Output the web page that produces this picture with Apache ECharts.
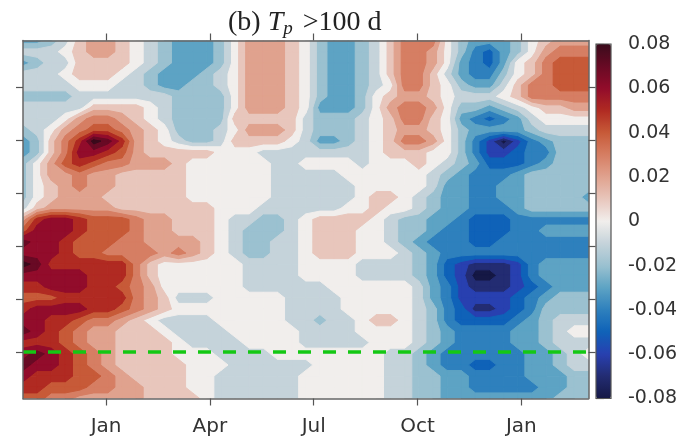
<!DOCTYPE html>
<html><head><meta charset="utf-8">
<style>html,body{margin:0;padding:0;background:#fff}#c{width:682px;height:442px}</style>
<script src="https://cdn.jsdelivr.net/npm/echarts@6/dist/echarts.min.js"></script>
</head><body><div id="c"></div>
<script>
const tickMonths = [0, 3, 6, 9, 12];
const tickLabels = ['Jan', 'Apr', 'Jul', 'Oct', 'Jan'];
const yTicks = [0, 1, 2, 3, 4, 5];
const xRange = [-2.4, 13.94];
const yRange = [-0.877, 5.877];
const thresholdLine = 0;
// colours of the filled bands, from -0.08 to +0.08 in steps of 0.01
const palette = ['#151845','#232c72','#2840b0','#0f62b8','#2e80bd','#5da3c4','#9bc1d0','#c5d3da','#f1eeec',
                 '#e8c6bc','#e0a28e','#d67e63','#c75a38','#b02a22','#920c2b','#680a24','#3a0b1c'];
// anomaly in hundredths; rows top to bottom, columns left to right
const hundredths = [
[-3,-3,-2,-1,1, 2,2,1,0,-1, -2,-3,-3,-3,-2, 0,2,2,2,1, 0,-2,-3,-3,-2, -1,1,3,3,3, 0,-2,-3,-3,-3, -2,0,1,2,2, 2],
[-1,-1,-1,0,1, 2,2,1,0,-1, -2,-3,-3,-3,-2, 0,2,2,2,1, 0,-2,-3,-3,-2, -1,1,3,3,2, 0,-2,-4,-5,-3, -2,0,2,3,3, 3],
[-3,-2,-1,-1,1, 1,1,1,0,-1, -2,-3,-3,-3,-2, 0,2,2,2,1, 0,-2,-3,-3,-2, -1,1,3,3,2, 0,-3,-4,-5,-3, 0,1,3,4,4, 4],
[-1,-1,-1,0,1, 1,1,0,-1,-2, -3,-3,-3,-2,-1, 0,2,2,2,1, 0,-2,-3,-3,-2, -1,1,3,3,1, -1,-3,-4,-4,-2, 0,1,3,4,4, 4],
[-1,-1,-1,-1,0, 0,0,-1,-1,-2, -3,-3,-2,-2,-1, 0,2,2,2,1, 0,-2,-3,-3,-2, -1,0,3,3,1, 0,-2,-3,-3,-1, 1,3,3,4,4, 4],
[-2,-2,-2,-2,-1, -1,-1,-1,-1,-1, -1,-2,-2,-2,-2, 0,2,2,2,1, 0,-2,-3,-3,-2, 0,1,2,2,1, 0,-1,-1,-1,0, 1,3,3,3,3, 3],
[-1,-1,-1,-1,-1, 1,1,1,1,0, -1,-2,-2,-2,-2, 0,2,2,2,1, 0,-3,-3,-3,-2, 0,2,3,3,2, 0,-2,-2,-3,-2, -1,0,1,1,2, 2],
[-1,-1,-1,0,2, 3,3,2,1,0, -1,-2,-2,-2,-2, 1,1,1,1,1, -1,-2,-2,-2,-1, 0,1,3,3,1, 0,-3,-4,-5,-4, -3,-1,0,0,0, 0],
[-2,-1,0,2,3, 4,4,3,2,1, 0,-2,-2,-2,-1, 0,2,2,2,1, -1,-2,-2,-2,-1, 0,1,2,2,1, 0,-2,-3,-3,-3, -3,-2,-1,-1,-1, -1],
[-3,-2,1,3,5, 8,7,5,2,1, 0,-1,-2,-2,-1, 1,1,1,1,0, -1,-3,-3,-2,-1, 0,1,3,3,2, 0,-2,-4,-6,-8, -6,-4,-3,-2,-2, -2],
[-3,-2,1,3,6, 6,5,4,2,1, 1,1,1,1,0, 0,0,-1,-1,-1, -1,-1,-1,-1,-1, 0,1,1,1,0, 0,-2,-4,-6,-6, -5,-4,-4,-2,-2, -2],
[-2,0,2,4,5, 4,3,3,2,2, 2,1,0,0,0, 0,0,0,-1,-1, 0,0,0,0,-1, 0,0,0,1,0, -1,-2,-3,-5,-5, -5,-4,-3,-2,-2, -2],
[-2,0,2,2,3, 2,2,1,1,1, 1,1,0,0,0, 0,0,0,-1,-1, -1,-1,-1,0,0, 0,0,0,0,-1, -2,-3,-4,-4,-4, -3,-2,-2,-2,-2, -2],
[-2,0,1,2,3, 2,2,1,1,1, 1,1,0,0,0, 0,0,0,-1,-1, -1,-1,-1,-1,0, 0,0,0,0,-1, -3,-3,-4,-4,-3, -3,-2,-2,-2,-2, -2],
[-2,0,1,2,2, 2,1,1,1,1, 1,1,0,0,0, 0,0,0,-1,-1, -1,-1,-1,-1,0, 1,1,0,-1,-2, -3,-3,-4,-4,-3, -3,-2,-2,-2,-2, -3],
[-1,1,2,2,2, 2,2,1,1,1, 1,1,1,1,0, 0,0,-1,-1,-1, -1,-1,-1,0,0, 1,0,0,-1,-2, -3,-3,-4,-4,-4, -3,-2,-2,-2,-2, -2],
[2,5,6,6,5, 4,4,4,3,2, 2,1,1,1,0, -1,-1,-2,-2,-1, 0,1,1,1,1, 0,-1,-2,-2,-3, -3,-4,-5,-5,-5, -4,-4,-4,-4,-4, -4],
[4,6,6,6,5, 4,4,4,3,2, 2,1,1,1,0, -1,-2,-2,-2,-1, 0,1,1,1,0, 0,-1,-2,-2,-3, -4,-4,-5,-5,-5, -4,-4,-3,-3,-3, -3],
[7,6,6,5,4, 4,4,3,3,2, 2,2,2,1,0, -1,-2,-2,-1,-1, 0,1,1,1,0, 0,-1,-2,-3,-4, -4,-4,-5,-5,-4, -4,-4,-4,-4,-4, -4],
[6,6,6,5,4, 4,3,3,3,3, 2,3,2,1,0, -1,-2,-2,-1,-1, 0,1,1,1,0, 0,0,-1,-2,-3, -4,-4,-4,-4,-4, -4,-4,-4,-4,-4, -4],
[8,7,5,5,5, 5,5,5,3,1, 0,0,0,0,0, 0,-1,-1,-1,-1, 0,0,0,0,-1, -1,-1,-1,-2,-3, -5,-6,-7,-7,-7, -6,-4,-3,-3,-3, -3],
[6,6,6,6,6, 5,5,5,3,1, 0,0,0,0,0, 0,-1,-1,-1,-1, 0,0,0,0,-1, -1,-1,-1,-2,-3, -5,-6,-8,-8,-7, -6,-4,-3,-3,-3, -3],
[5,5,6,6,6, 5,5,4,3,2, 0,0,0,0,0, 0,-1,-1,-1,-1, -1,-1,0,0,0, 0,0,0,-1,-3, -4,-6,-7,-7,-7, -6,-5,-4,-3,-3, -3],
[4,4,4,5,5, 5,5,5,3,2, 1,-1,-1,-1,0, 0,0,0,0,-1, -1,-1,-1,0,0, 0,0,0,-1,-3, -4,-6,-6,-6,-6, -5,-4,-3,-2,-2, -2],
[5,6,6,6,6, 5,5,4,3,2, 1,0,0,0,0, 0,0,0,0,-1, -1,-1,-1,0,0, 0,0,0,-1,-2, -4,-5,-7,-7,-6, -5,-4,-2,-2,-2, -2],
[6,6,5,5,4, 3,3,2,1,0, -1,-1,-1,-1,0, 0,0,0,0,-1, -1,-2,-1,-1,0, 1,1,0,-1,-2, -4,-5,-5,-5,-5, -4,-3,-2,-1,-1, -1],
[7,6,5,4,3, 2,2,1,1,1, 0,-1,-1,-1,-1, 0,0,0,0,0, -1,-1,-1,-1,0, 0,0,0,-1,-2, -3,-4,-4,-4,-4, -3,-3,-2,-1,0, 0],
[5,5,5,4,3, 2,2,1,1,1, 1,0,-1,-1,-1, -1,0,0,0,0, -1,-1,-1,-1,-1, 0,0,0,-1,-2, -3,-4,-4,-4,-4, -3,-3,-2,-1,-1, -1],
[6,7,6,5,4, 3,2,1,1,1, 1,0,0,0,-1, -1,-1,-1,0,0, 0,0,0,0,0, 0,-1,-1,-2,-3, -4,-4,-4,-4,-4, -4,-3,-3,-2,-1, 0],
[7,6,6,5,4, 3,2,1,1,1, 1,1,0,0,0, -1,-1,-1,-1,-1, -1,0,0,0,0, 0,-1,-1,-2,-3, -4,-4,-5,-5,-4, -4,-3,-3,-2,-1, -1],
[6,5,5,5,4, 4,3,2,1,1, 1,1,0,0,-1, -1,-1,-1,-1,-1, 0,0,0,0,0, 0,-1,-1,-2,-2, -3,-3,-4,-4,-4, -4,-3,-3,-3,-2, -2],
[5,5,4,4,4, 3,3,2,2,1, 1,1,0,0,-1, -1,-1,-1,-1,-1, 0,0,0,0,0, 0,-1,-1,-2,-2, -3,-3,-4,-4,-4, -4,-4,-3,-3,-2, -2],
[4,4,3,3,2, 2,2,2,2,1, 1,1,1,0,-1, -1,-1,-1,-1,-1, 0,0,0,0,0, 0,-1,-1,-2,-2, -3,-3,-3,-3,-3, -3,-3,-3,-2,-2, -2]
];

const nRows = hundredths.length, nCols = hundredths[0].length;
const colX = i => xRange[0] + i * (xRange[1] - xRange[0]) / (nCols - 1);
const rowY = j => yRange[1] - j * (yRange[1] - yRange[0]) / (nRows - 1);

const nodes = [];
hundredths.forEach((row, j) => row.forEach((h, i) => nodes.push([colX(i), rowY(j), h / 100, i, j])));

// part of a corner polygon at or above a contour level
function above(c, t) {
  const out = [];
  for (let k = 0; k < c.length; k++) {
    const a = c[k], b = c[(k + 1) % c.length];
    if (a[2] >= t) out.push([a[0], a[1]]);
    if ((a[2] >= t) !== (b[2] >= t)) {
      const f = (t - a[2]) / (b[2] - a[2]);
      out.push([a[0] + f * (b[0] - a[0]), a[1] + f * (b[1] - a[1])]);
    }
  }
  return out;
}
// z2 paints the bands lowest first across all cells, so no seams show between cells
function bandShape(points, level) {
  const color = palette[level + 8];
  return { type: 'polygon', shape: { points }, silent: true, z2: level + 10,
           style: { fill: color, stroke: color, lineWidth: 1, lineJoin: 'round' } };
}
function renderCell(params, api) {
  const i = api.value(3), j = api.value(4);
  if (i >= nCols - 1 || j >= nRows - 1) return { type: 'group', children: [] };
  const corners = [[i, j], [i + 1, j], [i + 1, j + 1], [i, j + 1]].map(([ci, cj]) => {
    const p = api.coord([colX(ci), rowY(cj)]);
    return [p[0], p[1], hundredths[cj][ci]];
  });
  const vals = corners.map(c => c[2]);
  const lo = Math.min(...vals), hi = Math.max(...vals);
  const children = [bandShape(corners.map(c => [c[0], c[1]]), lo)];
  for (let k = lo; k < hi; k++) {
    const pts = above(corners, k + 0.5);
    if (pts.length > 2) children.push(bandShape(pts, k + 1));
  }
  return { type: 'group', children };
}

const axisLine = { show: true, onZero: false, lineStyle: { color: '#666', width: 1.5 } };
const tick = { show: true, length: 7, lineStyle: { color: '#555', width: 1.2 } };
const textColor = '#333';

const chart = echarts.init(document.getElementById('c'), null, { renderer: 'canvas' });
chart.setOption({
  animation: false,
  backgroundColor: '#fff',
  title: {
    left: 228, top: 8, padding: 0,
    text: '{a|(b) }{i|T}{s|p}{a| >100 d}',
    textStyle: { fontWeight: 'normal', rich: {
      a: { fontFamily: 'Liberation Serif', fontWeight: 'normal', fontSize: 28, color: '#222' },
      i: { fontFamily: 'Liberation Serif', fontWeight: 'normal', fontStyle: 'italic', fontSize: 28, color: '#222' },
      s: { fontFamily: 'Liberation Serif', fontWeight: 'normal', fontStyle: 'italic', fontSize: 19, color: '#222', padding: [11, 3, 0, 0] }
    } }
  },
  grid: [
    { left: 23, top: 40.5, width: 565.5, height: 358, show: false },
    { left: 596, top: 44, width: 15, height: 354.5, show: true, borderColor: '#555', borderWidth: 1.2, backgroundColor: 'transparent', z: 6 }
  ],
  xAxis: [
    { type: 'value', gridIndex: 0, position: 'bottom', min: xRange[0], max: xRange[1], splitLine: { show: false }, axisLine, z: 10,
      axisTick: { ...tick, customValues: tickMonths },
      axisLabel: { customValues: tickMonths, margin: 18, fontFamily: 'DejaVu Sans', fontSize: 20, color: textColor,
                   formatter: v => tickLabels[tickMonths.indexOf(v)] ?? '' } },
    { type: 'value', gridIndex: 0, position: 'top', min: xRange[0], max: xRange[1], splitLine: { show: false }, axisLine, z: 10,
      axisTick: { ...tick, customValues: tickMonths }, axisLabel: { show: false } },
    { type: 'value', gridIndex: 1, min: 0, max: 1, show: false }
  ],
  yAxis: [
    { type: 'value', gridIndex: 0, position: 'left', min: yRange[0], max: yRange[1], splitLine: { show: false }, axisLine, z: 10,
      axisTick: { ...tick, customValues: yTicks }, axisLabel: { show: false } },
    { type: 'value', gridIndex: 0, position: 'right', min: yRange[0], max: yRange[1], splitLine: { show: false }, axisLine, z: 10,
      axisTick: { ...tick, customValues: yTicks }, axisLabel: { show: false } },
    { type: 'value', gridIndex: 1, position: 'right', min: -0.08, max: 0.08, interval: 0.02, splitLine: { show: false },
      axisLine: { show: false }, axisTick: { show: true, length: 8, lineStyle: { color: '#555', width: 1.2 } },
      axisLabel: { margin: 17, fontFamily: 'DejaVu Sans', fontSize: 19, color: textColor,
                   formatter: v => Math.abs(v) < 1e-9 ? '0' : v.toFixed(2) } }
  ],
  visualMap: {
    type: 'continuous', min: -0.08, max: 0.08, seriesIndex: 0, dimension: 2, calculable: false,
    left: 596, top: 44, itemWidth: 15, itemHeight: 354.5, padding: 0, z: 1,
    inRange: { color: palette }
  },
  series: [
    { type: 'custom', xAxisIndex: 0, yAxisIndex: 0, coordinateSystem: 'cartesian2d', data: nodes,
      encode: { x: 0, y: 1 }, renderItem: renderCell, clip: true, silent: true, progressive: 0, z: 1 },
    { type: 'line', xAxisIndex: 0, yAxisIndex: 0, symbol: 'none', silent: true, z: 5,
      data: [[xRange[0], thresholdLine], [xRange[1], thresholdLine]],
      lineStyle: { color: '#14c814', width: 3.5, type: [13, 12] } }
  ]
});
</script></body></html>
